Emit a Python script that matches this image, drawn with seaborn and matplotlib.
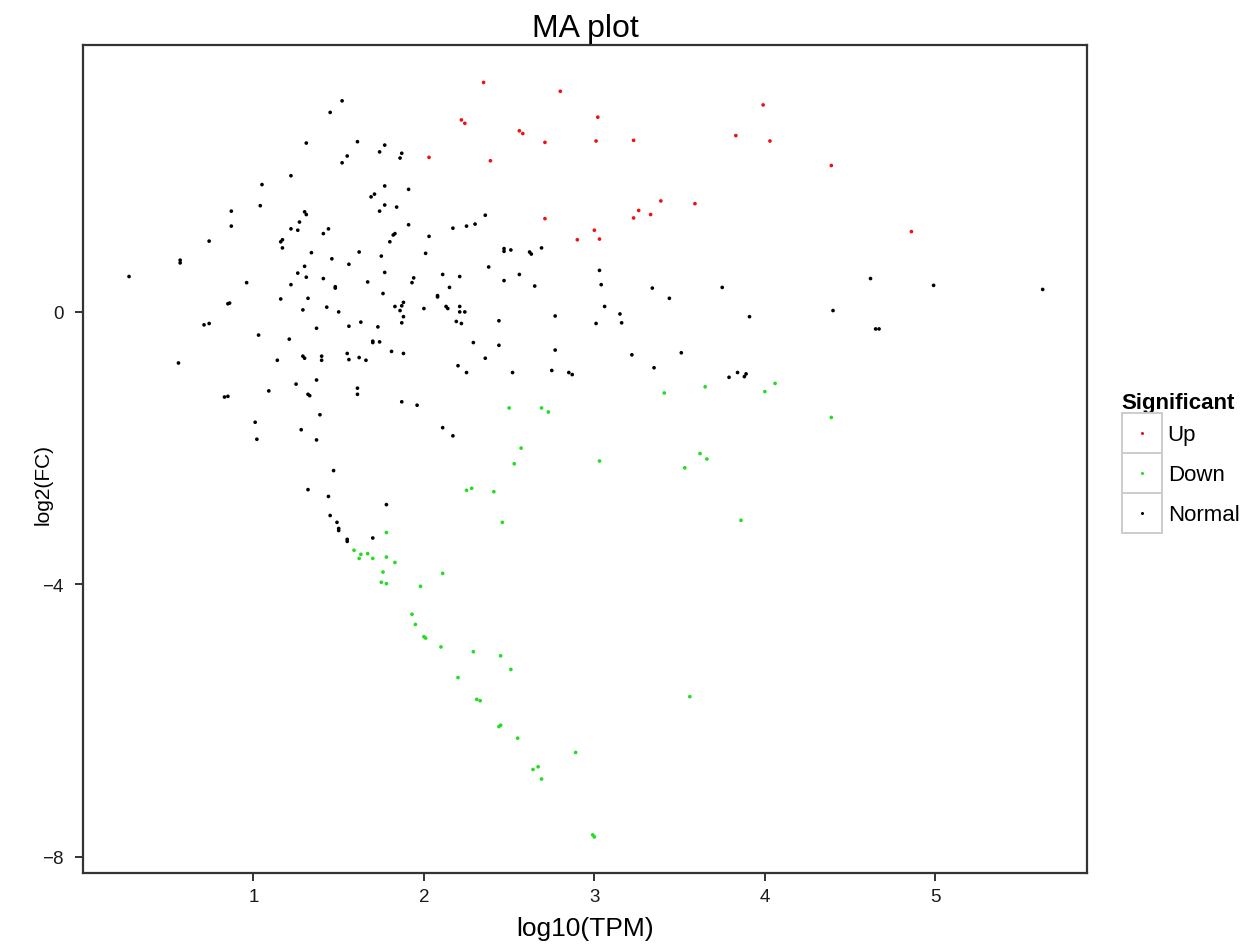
import matplotlib
matplotlib.use("Agg")
import matplotlib.pyplot as plt
from matplotlib.legend_handler import HandlerBase
from matplotlib.lines import Line2D
from matplotlib.patches import Rectangle
import pandas as pd
import seaborn as sns

# values
up_x = [2.35, 2.80, 2.22, 2.24, 3.02, 2.56, 2.58, 2.71, 3.01, 3.23, 3.83, 3.99, 4.03,
        4.39, 2.03, 2.39, 3.39, 3.59, 3.26, 3.23, 3.33, 2.71, 3.00, 3.03, 2.90, 4.86]
up_y = [3.37, 3.24, 2.82, 2.77, 2.86, 2.66, 2.62, 2.49, 2.51, 2.52, 2.59, 3.04, 2.51,
        2.15, 2.27, 2.22, 1.63, 1.59, 1.49, 1.38, 1.43, 1.37, 1.20, 1.07, 1.06, 1.18]

down_x = [1.78, 1.59, 1.63, 1.62, 1.67, 1.70, 1.78, 1.83, 1.76, 1.75,
          1.78, 1.98, 1.93, 1.95, 2.00, 2.01, 2.10, 2.29, 2.45, 2.51,
          2.20, 2.31, 2.33, 2.44, 2.45, 2.55, 2.89, 2.64, 2.67, 2.69,
          2.99, 3.00, 3.56, 3.41, 3.65, 2.50, 2.69, 2.73, 2.57, 2.53,
          3.03, 3.62, 3.66, 3.53, 2.25, 2.28, 2.41, 2.46, 3.86, 2.11,
          4.06, 4.00, 4.39]
down_y = [-3.24, -3.50, -3.56, -3.62, -3.55, -3.62, -3.60, -3.68, -3.82, -3.97,
          -3.99, -4.03, -4.44, -4.59, -4.77, -4.79, -4.92, -4.99, -5.05, -5.25,
          -5.37, -5.69, -5.71, -6.09, -6.07, -6.26, -6.47, -6.72, -6.68, -6.86,
          -7.68, -7.71, -5.65, -1.19, -1.10, -1.41, -1.41, -1.47, -2.00, -2.23,
          -2.19, -2.08, -2.16, -2.29, -2.62, -2.59, -2.64, -3.09, -3.06, -3.84,
          -1.05, -1.17, -1.55]

normal_x = [1.52, 1.45, 1.31, 1.61, 1.77, 1.74, 1.87, 1.86, 1.55, 1.52,
            1.22, 1.05, 1.77, 1.91, 1.69, 1.71, 1.04, 1.77, 1.84, 0.87,
            1.74, 1.30, 1.31, 1.27, 0.87, 1.91, 1.22, 1.26, 1.44, 1.41,
            1.83, 1.82, 0.74, 1.17, 1.16, 1.80, 1.17, 1.34, 1.62, 1.75,
            1.46, 0.57, 0.57, 1.56, 1.30, 0.27, 1.26, 1.31, 1.77, 1.94,
            1.93, 0.96, 1.41, 1.67, 1.22, 1.48, 1.48, 1.76, 1.16, 1.32,
            0.85, 0.86, 1.88, 1.87, 1.83, 1.29, 1.43, 1.50, 1.86, 1.88,
            0.71, 0.74, 1.87, 1.63, 1.37, 1.56, 1.73, 1.03, 1.21, 1.70,
            1.70, 1.74, 0.56, 1.14, 1.29, 1.30, 1.40, 1.40, 1.55, 1.56,
            1.62, 1.66, 1.81, 1.88, 1.25, 1.37, 1.09, 1.32, 1.33, 1.61,
            1.61, 0.83, 0.85, 1.87, 1.96, 1.39, 1.01, 1.28, 1.02, 1.37,
            1.47, 1.32, 1.44, 1.78, 1.45, 1.49, 1.50, 1.50, 1.55, 1.55,
            1.70,
            2.36, 2.30, 2.25, 2.17, 2.03, 2.01, 2.47, 2.47, 2.51, 2.62,
            2.63, 2.69, 2.38, 3.03, 3.04, 2.11, 2.21, 2.56, 2.15, 2.47,
            2.65, 3.34, 3.75, 3.44, 2.08, 2.08, 2.00, 2.13, 2.14, 2.21,
            2.21, 2.24, 3.06,
            2.19, 2.22, 2.44, 2.77, 3.01, 3.15, 3.16, 3.91, 2.29, 2.44,
            2.36, 2.20, 2.25, 2.52, 2.77, 2.75, 2.85, 2.87, 3.22, 3.51,
            3.35, 3.79, 3.84, 3.88, 3.89, 2.11, 2.17,
            4.65, 4.67, 4.62, 4.99, 5.63, 4.40]
normal_y = [3.10, 2.93, 2.48, 2.50, 2.45, 2.35, 2.33, 2.26, 2.29, 2.19,
            2.00, 1.87, 1.85, 1.80, 1.69, 1.73, 1.56, 1.57, 1.54, 1.48,
            1.48, 1.47, 1.43, 1.32, 1.26, 1.28, 1.22, 1.20, 1.22, 1.15,
            1.15, 1.13, 1.04, 1.06, 1.03, 1.03, 0.94, 0.87, 0.88, 0.82,
            0.78, 0.76, 0.72, 0.70, 0.67, 0.52, 0.57, 0.51, 0.58, 0.50,
            0.43, 0.43, 0.49, 0.44, 0.40, 0.37, 0.35, 0.27, 0.19, 0.20,
            0.12, 0.13, 0.14, 0.09, 0.08, 0.03, 0.07, 0.00, 0.02, -0.07,
            -0.19, -0.17, -0.16, -0.15, -0.24, -0.21, -0.22, -0.34, -0.40, -0.43,
            -0.45, -0.44, -0.75, -0.71, -0.65, -0.68, -0.65, -0.71, -0.61, -0.70,
            -0.67, -0.71, -0.58, -0.61, -1.06, -1.00, -1.16, -1.21, -1.23, -1.12,
            -1.21, -1.25, -1.24, -1.32, -1.37, -1.51, -1.62, -1.73, -1.87, -1.88,
            -2.33, -2.61, -2.71, -2.83, -2.99, -3.09, -3.18, -3.21, -3.34, -3.37,
            -3.32,
            1.42, 1.29, 1.26, 1.23, 1.11, 0.86, 0.93, 0.89, 0.91, 0.88,
            0.85, 0.94, 0.66, 0.61, 0.40, 0.55, 0.52, 0.55, 0.36, 0.46,
            0.38, 0.35, 0.36, 0.20, 0.24, 0.22, 0.05, 0.08, 0.05, 0.08,
            0.00, 0.00, 0.08,
            -0.14, -0.17, -0.13, -0.06, -0.17, -0.03, -0.16, -0.07, -0.45, -0.49,
            -0.68, -0.79, -0.89, -0.89, -0.56, -0.86, -0.89, -0.92, -0.63, -0.60,
            -0.82, -0.96, -0.89, -0.95, -0.91, -1.70, -1.82,
            -0.25, -0.25, 0.49, 0.39, 0.33, 0.02]

groups = ["Up", "Down", "Normal"]
colors = {"Up": "#EE1111", "Down": "#22DD22", "Normal": "#000000"}

df = pd.concat([
    pd.DataFrame({"log10TPM": up_x, "log2FC": up_y, "Significant": "Up"}),
    pd.DataFrame({"log10TPM": down_x, "log2FC": down_y, "Significant": "Down"}),
    pd.DataFrame({"log10TPM": normal_x, "log2FC": normal_y, "Significant": "Normal"}),
], ignore_index=True)


class BoxedKey(HandlerBase):
    # ggplot-like legend key: grey square with a small dot in the middle
    def create_artists(self, legend, orig_handle, xdescent, ydescent,
                       width, height, fontsize, trans):
        box = Rectangle((-xdescent, -ydescent), width, height, facecolor="white",
                        edgecolor="#cccccc", linewidth=1.4, transform=trans)
        dot = Line2D([width / 2 - xdescent], [height / 2 - ydescent], marker="o",
                     markersize=2.2, linestyle="", markeredgewidth=0,
                     color=orig_handle.get_color(), transform=trans)
        return [box, dot]


sns.set_style("white")
plt.rcParams["font.family"] = ["Liberation Sans", "DejaVu Sans"]
plt.rcParams["text.color"] = "black"
plt.rcParams["axes.labelcolor"] = "black"

W, H = 1248, 945
fig = plt.figure(figsize=(W / 100, H / 100), dpi=100)
ax = fig.add_axes([83 / W, 1 - 874 / H, (1087 - 83) / W, (874 - 46) / H])

sns.scatterplot(data=df, x="log10TPM", y="log2FC", hue="Significant",
                hue_order=groups, palette=colors, s=7, linewidth=0,
                legend=False, ax=ax)

ax.set_xlim(0.0, 5.89)
ax.set_ylim(-8.24, 3.92)
ax.set_xticks([1, 2, 3, 4, 5])
ax.set_yticks([-8, -4, 0])
ax.set_yticklabels(["\u22128", "\u22124", "0"])

for sp in ax.spines.values():
    sp.set_color("#333333")
    sp.set_linewidth(1.6)
ax.tick_params(axis="both", which="major", direction="out", length=6, width=1.4,
               bottom=True, left=True, color="#333333", labelcolor="#1a1a1a",
               labelsize=13.5)
ax.tick_params(axis="x", pad=4.5)
ax.tick_params(axis="y", pad=8)

ax.set_title("MA plot", fontsize=23, pad=6.5, color="black")
ax.set_xlabel("log10(TPM)", fontsize=19)
ax.set_ylabel("log2(FC)", fontsize=15)
ax.xaxis.set_label_coords(0.5, -0.052)
ax.yaxis.set_label_coords(-0.030, 0.47)

handles = [Line2D([], [], color=colors[g], marker="o", linestyle="") for g in groups]
leg = fig.legend(handles, groups, title="Significant", loc="upper left",
                 bbox_to_anchor=(1121.7 / W, 1 - 393 / H), frameon=False,
                 fontsize=16, title_fontproperties={"weight": "bold", "size": 16},
                 handler_map={Line2D: BoxedKey()}, handlelength=1.8,
                 handleheight=2.39, labelspacing=0, handletextpad=0.27,
                 borderpad=0, borderaxespad=0, alignment="left")
for t in leg.get_texts():
    t.set_color("black")

fig.savefig("out.png", dpi=100)
